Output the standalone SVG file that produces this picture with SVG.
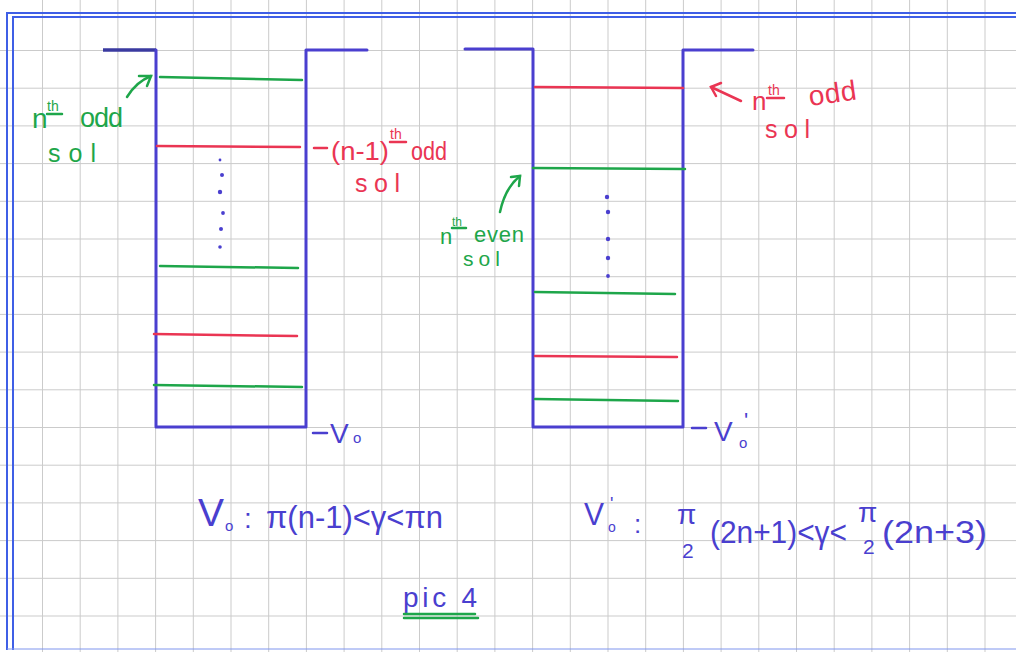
<svg xmlns="http://www.w3.org/2000/svg" width="1016" height="652" viewBox="0 0 1016 652">
<defs>
<style>
.grid line{stroke:#cbcbcb;stroke-width:1}
.frame{stroke:#3f5fe6;stroke-width:2;fill:none}
.well{stroke:#4a3fcf;stroke-width:3;fill:none;stroke-linecap:round;stroke-linejoin:round}
.g{stroke:#1ea64a;stroke-width:2.5;fill:none;stroke-linecap:round}
.r{stroke:#ea3553;stroke-width:2.5;fill:none;stroke-linecap:round}
.b{stroke:#4a3fcf;stroke-width:2.5;fill:none;stroke-linecap:round}
text{font-family:"Liberation Sans","DejaVu Sans",sans-serif}
.tg{fill:#1ea64a}
.tr{fill:#ea3553}
.tb{fill:#4a3fcf}
.dot{fill:#4a3fcf}
</style>
</defs>
<rect width="1016" height="652" fill="#ffffff"/>
<g class="grid">
<line x1="42.5" y1="0" x2="42.5" y2="652"/><line x1="80.2" y1="0" x2="80.2" y2="652"/><line x1="117.9" y1="0" x2="117.9" y2="652"/><line x1="155.6" y1="0" x2="155.6" y2="652"/><line x1="193.3" y1="0" x2="193.3" y2="652"/><line x1="231" y1="0" x2="231" y2="652"/><line x1="268.7" y1="0" x2="268.7" y2="652"/><line x1="306.4" y1="0" x2="306.4" y2="652"/><line x1="344.1" y1="0" x2="344.1" y2="652"/><line x1="381.8" y1="0" x2="381.8" y2="652"/><line x1="419.5" y1="0" x2="419.5" y2="652"/><line x1="457.2" y1="0" x2="457.2" y2="652"/><line x1="494.9" y1="0" x2="494.9" y2="652"/><line x1="532.6" y1="0" x2="532.6" y2="652"/><line x1="570.3" y1="0" x2="570.3" y2="652"/><line x1="608" y1="0" x2="608" y2="652"/><line x1="645.7" y1="0" x2="645.7" y2="652"/><line x1="683.4" y1="0" x2="683.4" y2="652"/><line x1="721.1" y1="0" x2="721.1" y2="652"/><line x1="758.8" y1="0" x2="758.8" y2="652"/><line x1="796.5" y1="0" x2="796.5" y2="652"/><line x1="834.2" y1="0" x2="834.2" y2="652"/><line x1="871.9" y1="0" x2="871.9" y2="652"/><line x1="909.6" y1="0" x2="909.6" y2="652"/><line x1="947.3" y1="0" x2="947.3" y2="652"/><line x1="985" y1="0" x2="985" y2="652"/>
<line x1="0" y1="50.5" x2="1016" y2="50.5"/><line x1="0" y1="88.2" x2="1016" y2="88.2"/><line x1="0" y1="125.9" x2="1016" y2="125.9"/><line x1="0" y1="163.6" x2="1016" y2="163.6"/><line x1="0" y1="201.3" x2="1016" y2="201.3"/><line x1="0" y1="239" x2="1016" y2="239"/><line x1="0" y1="276.7" x2="1016" y2="276.7"/><line x1="0" y1="314.4" x2="1016" y2="314.4"/><line x1="0" y1="352.1" x2="1016" y2="352.1"/><line x1="0" y1="389.8" x2="1016" y2="389.8"/><line x1="0" y1="427.5" x2="1016" y2="427.5"/><line x1="0" y1="465.2" x2="1016" y2="465.2"/><line x1="0" y1="502.9" x2="1016" y2="502.9"/><line x1="0" y1="540.6" x2="1016" y2="540.6"/><line x1="0" y1="578.3" x2="1016" y2="578.3"/><line x1="0" y1="616" x2="1016" y2="616"/>
</g>
<g id="frame">
<path class="frame" d="M7,650 V13 H1016"/>
<path class="frame" d="M13,650 V17 H1016"/>
<line x1="7" y1="649" x2="1016" y2="649" stroke="#7f95ee" stroke-width="1"/>
</g>
<g id="well-left">
<line x1="103" y1="50" x2="156" y2="50" stroke="#3a3aa0" stroke-width="3.5"/>
<path class="well" d="M156,50 V427 H306 V50 H367"/>
<line class="g" x1="160" y1="77" x2="302" y2="80"/>
<line class="r" x1="157" y1="146" x2="300" y2="147"/>
<line class="g" x1="160" y1="266" x2="298" y2="268"/>
<line class="r" x1="154" y1="334" x2="297" y2="336"/>
<line class="g" x1="154" y1="385" x2="302" y2="387"/>
<circle class="dot" cx="220" cy="160" r="1.4"/><circle class="dot" cx="222" cy="175" r="2"/><circle class="dot" cx="220" cy="192" r="2.2"/><circle class="dot" cx="223" cy="213" r="1.9"/><circle class="dot" cx="221" cy="229" r="2"/><circle class="dot" cx="220" cy="247" r="1.8"/>
</g>
<g id="well-right">
<path class="well" d="M465,49 H533 V427 H683 V50 H753"/>
<line class="r" x1="535" y1="87" x2="683" y2="88"/>
<line class="g" x1="533" y1="168" x2="685" y2="169"/>
<line class="g" x1="535" y1="292" x2="675" y2="294"/>
<line class="r" x1="535" y1="356" x2="677" y2="357"/>
<line class="g" x1="535" y1="399" x2="678" y2="401"/>
<circle class="dot" cx="607" cy="197" r="2.2"/><circle class="dot" cx="608" cy="212" r="2.2"/><circle class="dot" cx="608" cy="239" r="2.2"/><circle class="dot" cx="608" cy="258" r="2.2"/><circle class="dot" cx="608" cy="276" r="1.9"/>
</g>
<g id="connectors">
<path class="g" d="M127,97 Q136,82 151,76"/>
<path class="g" d="M139,76 L151,76 L147,86"/>
<path class="r" d="M741,101 L711,87"/>
<path class="r" d="M721,83 L711,87 L716,96"/>
<path class="g" d="M500,212 Q505,188 520,176"/>
<path class="g" d="M511,177 L520,176 L519,186"/>
</g>
<g id="label-left-green">
<text class="tg" x="32" y="128" font-size="28">n</text>
<text class="tg" x="47" y="111" font-size="14">th</text>
<line class="g" x1="47" y1="114" x2="62" y2="114" stroke-width="1.8"/>
<text class="tg" x="80" y="127" font-size="27" textLength="43" lengthAdjust="spacing">odd</text>
<text class="tg" x="48" y="162" font-size="25" textLength="48" lengthAdjust="spacing">sol</text>
</g>
<g id="label-left-red">
<line class="r" x1="314" y1="148" x2="327" y2="148" stroke-width="2"/>
<text class="tr" x="331" y="160" font-size="26" textLength="58" lengthAdjust="spacingAndGlyphs">(n-1)</text>
<text class="tr" x="390" y="139" font-size="14">th</text>
<line class="r" x1="390" y1="142" x2="406" y2="142" stroke-width="1.8"/>
<text class="tr" x="411" y="160" font-size="26" textLength="36" lengthAdjust="spacingAndGlyphs">odd</text>
<text class="tr" x="355" y="192" font-size="25" textLength="45" lengthAdjust="spacing">sol</text>
</g>
<g id="label-right-red">
<text class="tr" x="752" y="110" font-size="26">n</text>
<text class="tr" x="768" y="95" font-size="14">th</text>
<line class="r" x1="767" y1="98" x2="784" y2="98" stroke-width="1.8"/>
<text class="tr" x="810" y="106" font-size="28" textLength="48" lengthAdjust="spacing" transform="rotate(-8 810 106)">odd</text>
<text class="tr" x="765" y="138" font-size="25" textLength="45" lengthAdjust="spacing">sol</text>
</g>
<g id="label-right-green">
<text class="tg" x="440" y="244" font-size="22">n</text>
<text class="tg" x="452" y="226" font-size="12">th</text>
<line class="g" x1="452" y1="228" x2="466" y2="228" stroke-width="1.6"/>
<text class="tg" x="474" y="242" font-size="22" textLength="50" lengthAdjust="spacing">even</text>
<text class="tg" x="463" y="266" font-size="21" textLength="37" lengthAdjust="spacing">sol</text>
</g>
<g id="label-v0">
<line class="b" x1="313" y1="433" x2="327" y2="433" stroke-width="2"/>
<text class="tb" x="330" y="443" font-size="28">V</text>
<text class="tb" x="353" y="443" font-size="15">o</text>
</g>
<g id="label-v0p">
<line class="b" x1="692" y1="428" x2="706" y2="428" stroke-width="2"/>
<text class="tb" x="714" y="441" font-size="28">V</text>
<text class="tb" x="739" y="448" font-size="15">o</text>
<text class="tb" x="744" y="428" font-size="22">'</text>
</g>
<g id="formula-left">
<text class="tb" x="198" y="526" font-size="38" textLength="26" lengthAdjust="spacingAndGlyphs">V</text>
<text class="tb" x="225" y="531" font-size="15">o</text>
<text class="tb" x="244" y="528" font-size="28">:</text>
<text class="tb" x="266" y="528" font-size="31" textLength="177" lengthAdjust="spacingAndGlyphs">π(n-1)&lt;γ&lt;πn</text>
</g>
<g id="formula-right">
<text class="tb" x="584" y="525" font-size="32" textLength="20" lengthAdjust="spacingAndGlyphs">V</text>
<text class="tb" x="610" y="510" font-size="18">'</text>
<text class="tb" x="608" y="532" font-size="14">o</text>
<text class="tb" x="634" y="533" font-size="26">:</text>
<text class="tb" x="677" y="524" font-size="28">π</text>
<text class="tb" x="682" y="558" font-size="21">2</text>
<text class="tb" x="710" y="543" font-size="31" textLength="137" lengthAdjust="spacingAndGlyphs">(2n+1)&lt;γ&lt;</text>
<text class="tb" x="858" y="522" font-size="28">π</text>
<text class="tb" x="863" y="554" font-size="21">2</text>
<text class="tb" x="882" y="543" font-size="31" textLength="105" lengthAdjust="spacingAndGlyphs">(2n+3)</text>
</g>
<g id="caption">
<text class="tb" x="403" y="607" font-size="28" textLength="74" lengthAdjust="spacing">pic 4</text>
<line class="g" x1="404" y1="614" x2="475" y2="614" stroke-width="2"/>
<line class="g" x1="404" y1="618" x2="478" y2="618" stroke-width="2"/>
</g>
</svg>
